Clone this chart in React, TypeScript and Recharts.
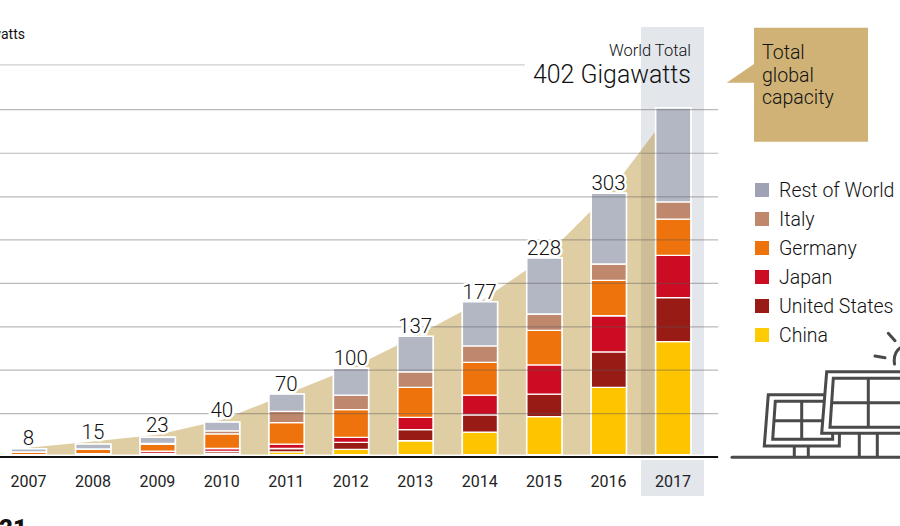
import { Area, Bar, ComposedChart, LabelList, Line, ReferenceArea, ReferenceLine, XAxis, YAxis } from "recharts";

const years = [2007, 2008, 2009, 2010, 2011, 2012, 2013, 2014, 2015, 2016, 2017];
const china = [0, 0, 0.3, 1, 3, 6, 16, 26, 44, 78, 131];
const unitedStates = [0, 0.5, 1, 2.5, 4, 8, 13, 20, 26, 41, 51];
const japan = [0, 0.5, 2.5, 3.5, 5, 6, 14, 23, 34, 42, 49];
const germany = [2.5, 5, 8, 17, 25, 32, 35, 38, 40, 41, 42];
const italy = [0.5, 0.5, 1.2, 3.5, 13, 17, 18, 19, 19, 19, 20];
const restOfWorld = [3.5, 5.5, 7, 10, 20, 31, 41, 51, 65, 82, 109];
const totals = [8, 15, 23, 40, 70, 100, 137, 177, 228, 303, 402];
const gridValues = [47.5, 98, 148, 198.5, 249, 299, 349.5, 400];
const topGridValue = 452;

const series = [
  { key: "china", name: "China", values: china, color: "#fec400", swatch: "#ffcb05" },
  { key: "unitedStates", name: "United States", values: unitedStates, color: "#981b16", swatch: "#981b16" },
  { key: "japan", name: "Japan", values: japan, color: "#cc0c22", swatch: "#cc0c22" },
  { key: "germany", name: "Germany", values: germany, color: "#ef730c", swatch: "#ef730c" },
  { key: "italy", name: "Italy", values: italy, color: "#bf886c", swatch: "#bf886c" },
  { key: "restOfWorld", name: "Rest of World", values: restOfWorld, color: "#b3b7c4", swatch: "#9ea2b4" },
];

const data = years.map((year, i) => {
  const row: any = { year, total: totals[i], label: year === 2017 ? undefined : totals[i] };
  let stackTop = 0;
  series.forEach((s) => {
    row[s.key] = s.values[i];
    stackTop += s.values[i];
  });
  row.stackTop = stackTop;
  return row;
});

const FONT = "Roboto, sans-serif";
const xDomain: [number, number] = [2006.558, 2020.522];
const gridEnd = 2017.7;
const gridColor = "rgba(90,90,90,0.42)";

function YearTick({ x, y, payload }: any) {
  return (
    <text x={x} y={y - 47.5} textAnchor="middle" fill="#222" fontSize={16} fontFamily={FONT}>
      {payload.value}
    </text>
  );
}

function TotalLabel({ x, y, value }: any) {
  if (value == null) return null;
  return (
    <text
      x={x}
      y={y - 3}
      textAnchor="middle"
      fill="#111"
      fontSize={20.5}
      fontWeight={300}
      fontFamily={FONT}
      stroke="#fff"
      strokeWidth={5}
      style={{ paintOrder: "stroke" }}
    >
      {value}
    </text>
  );
}

function SolarIcon() {
  const ink = "#4a4a4a";
  return (
    <g fill="none" stroke={ink} strokeWidth={3}>
      <path d="M732 457.3H900" strokeLinecap="round" />
      <path d="M794.3 446V457M808.3 446V457M859.3 433V457M877.3 433V457" />
      <path d="M768.3 394.7H840L839.3 446H764.3Z" />
      <path d="M775.3 401.3H832L832.7 439.3H772.7Z" />
      <path d="M801.7 401V439M774 420.7H832" />
      <path d="M826.7 371.7H905V433.3H821.7Z" fill="#fff" />
      <path d="M833.3 378.3H905V427.3H830Z" />
      <path d="M868.3 378V427M832 402.7H905" />
      <path d="M888.3 333.3L895 340.7M875 356L885 357.7M894.5 364Q893 353 900 348" strokeLinecap="round" />
    </g>
  );
}

function Notes() {
  return (
    <svg width={900} height={526} style={{ position: "absolute", left: 0, top: 0 }}>
      <g fontFamily={FONT} fill="#111" fontWeight={300}>
        <text x={25} y={39} textAnchor="end" fontSize={14} fontWeight={400}>Gigawatts</text>
        <text x={691} y={56} textAnchor="end" fontSize={16.5}>World Total</text>
        <text x={691} y={83} textAnchor="end" fontSize={26} textLength={158} lengthAdjust="spacingAndGlyphs">402 Gigawatts</text>
        <path d="M726.7 82.7L754 64V27.7H868V141.7H754V82.7Z" fill="#d0b277" />
        <text x={762} y={59} fontSize={19.5}>Total</text>
        <text x={762} y={82} fontSize={19.5}>global</text>
        <text x={762} y={104} fontSize={19.5}>capacity</text>
        <text x={-1} y={536} fontSize={24} fontWeight={900} fill="#111">21</text>
        {[...series].reverse().map((s, i) => (
          <g key={s.key}>
            <rect x={755} y={183 + i * 29} width={14} height={14} fill={s.swatch} />
            <text x={779} y={197 + i * 29} fontSize={19.5}>{s.name}</text>
          </g>
        ))}
      </g>
      <SolarIcon />
    </svg>
  );
}

export default function App() {
  return (
    <div style={{ position: "absolute", left: 0, top: 0, width: 900, height: 526, overflow: "hidden", background: "#fff" }}>
      <ComposedChart width={900} height={526} data={data} margin={{ top: 0, right: 0, bottom: 0, left: 0 }}>
        <XAxis
          xAxisId="years"
          dataKey="year"
          type="number"
          domain={xDomain}
          ticks={years}
          interval={0}
          height={30}
          axisLine={false}
          tickLine={false}
          tick={<YearTick />}
        />
        <XAxis xAxisId="backing" dataKey="year" type="number" domain={xDomain} hide />
        <YAxis type="number" domain={[-48.1, 527.26]} allowDataOverflow hide />

        <ReferenceArea xAxisId="years" x1={2016.504} x2={2017.481} y1={0} y2={495.9} fill="#e3e6ea" fillOpacity={1} stroke="none" />
        <ReferenceArea xAxisId="years" x1={2016.504} x2={2017.481} y1={-6.4} y2={-48.1} fill="#e3e6ea" fillOpacity={1} stroke="none" />
        {gridValues.map((v) => (
          <ReferenceLine key={v} xAxisId="years" stroke={gridColor} strokeWidth={1.2}
            segment={[{ x: xDomain[0], y: v }, { x: gridEnd, y: v }]} />
        ))}
        <ReferenceLine xAxisId="years" stroke="rgba(90,90,90,0.3)" strokeWidth={1.2}
          segment={[{ x: xDomain[0], y: topGridValue }, { x: 2014.7, y: topGridValue }]} />
        <ReferenceLine xAxisId="years" stroke="#111" strokeWidth={2}
          segment={[{ x: xDomain[0], y: -2.9 }, { x: gridEnd, y: -2.9 }]} />

        <Area
          xAxisId="years"
          dataKey="total"
          type="linear"
          stroke="none"
          fill="#af821b"
          fillOpacity={0.4}
          isAnimationActive={false}
          legendType="none"
        />
        <Bar xAxisId="backing" dataKey="stackTop" barSize={35} fill="#fff" stroke="#fff" strokeWidth={2} isAnimationActive={false} legendType="none" />
        {series.map((s) => (
          <Bar
            key={s.key}
            xAxisId="years"
            dataKey={s.key}
            name={s.name}
            stackId="capacity"
            barSize={35}
            fill={s.color}
            stroke="#fff"
            strokeWidth={1.3}
            isAnimationActive={false}
          />
        ))}
        <Line xAxisId="years" dataKey="total" stroke="none" dot={false} activeDot={false} isAnimationActive={false} legendType="none">
          <LabelList dataKey="label" content={<TotalLabel />} />
        </Line>
      </ComposedChart>
      <Notes />
    </div>
  );
}
